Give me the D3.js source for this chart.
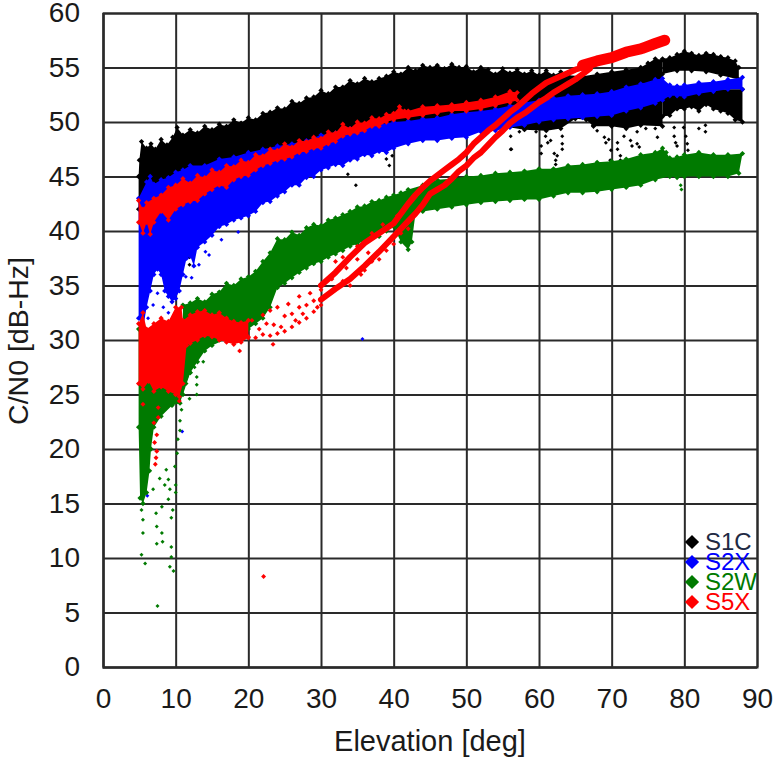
<!DOCTYPE html>
<html><head><meta charset="utf-8">
<script src="https://cdn.jsdelivr.net/npm/d3@7"></script>
<style>html,body{margin:0;background:#fff}svg{display:block}text{font-family:"Liberation Sans",Arial,sans-serif}</style>
</head><body><div id="c"></div>
<script>
const xTicks=[0,10,20,30,40,50,60,70,80,90];
const yTicks=[0,5,10,15,20,25,30,35,40,45,50,55,60];
const seriesNames=["S1C","S2X","S2W","S5X"];
const seriesColors=["#000000","#0000ff","#007a00","#ff0000"];

// S1C
const s1cTop=[[4.9,45],[5,46.5],[5.3,48.2],[6,47.6],[6.6,48],[7.2,47.5],[8,48.4],[8.8,47.9],[9.6,48.6],[10.2,49.5],[11,48.8],[12,49.3],[13,49],[14,49.6],[15,49.3],[16,49.8],[17,49.6],[18,50.2],[19,49.9],[20,50.4],[21,50.2],[22,50.8],[23,50.9],[24,51.3],[25,51.2],[26,51.9],[27,51.7],[28,52.2],[29,52.3],[30,52.9],[31,52.6],[32,53.2],[33,53.2],[34,53.8],[35,53.5],[36,54],[37,53.7],[38,54],[39,54.2],[40,54.6],[41,54.4],[42,55],[43,54.7],[44,55.2],[45,55],[46,55.2],[47,54.9],[48,55.3],[49,55],[50,55.1],[51,54.6],[52,55],[53,54.8],[54,54.4],[55,54.9],[56,54.5],[57,54.8],[58,54.4],[59,54.7],[60,54.3],[61,54.7],[62,54.3],[63,54.6],[64,54.3],[66,54.2],[68,54.4],[70,54.6],[72,54.8],[74,55],[75,55.4],[76,55.8],[77,55.7]];
const s1cBottom=[[4.9,42],[10,43],[15,44],[20,45],[25,46],[30,47],[35,47.7],[40,48.5],[45,49.2],[50,49.5],[55,49.6],[58,49.3],[61,49.2],[63,49.4],[65,50.3],[66.5,50.2],[67.5,49.6],[70,49.6],[72,49.4],[74,49.7],[77,49.6]];
const s1cUpperTop=[[77,55.8],[78,55.9],[79,56.2],[80,56.5],[81,56.3],[82,56.1],[83,56.3],[84,56.2],[85,56],[86,55.9],[87,55.6],[87.5,55]];
const s1cUpperBottom=[[77,54.4],[79,54.7],[81,54.7],[83,54.6],[85,54.3],[87.5,53.9]];
const s1cLowerTop=[[77,53],[88,53]];
const s1cLowerBottom=[[77,50.5],[78,50.6],[79,51.2],[80,51.2],[81,51.4],[82,51],[83,51.6],[84,51.2],[85,51],[86,50.8],[87,50.2],[88,50]];
const s1cPoints=[[56.1,48.7],[56.1,47.5],[57.3,49.1],[59.6,49.1],[60.3,47.8],[60.3,47.1],[60.9,48.7],[61.2,48.1],[61.6,48.3],[63.2,48.7],[63.2,48],[63.2,47.5],[62.1,47.1],[62.5,46.9],[62.3,46.5],[62.3,46.1],[67.4,49.7],[68,49.2],[69,48.6],[69.2,48.1],[69.6,48.4],[69.9,47.4],[69.8,46.5],[70.8,48.1],[70.8,47.5],[71.2,46.9],[71.2,46.5],[71.7,48.7],[72.6,48.3],[72.8,47.8],[73.5,48],[73.8,47.7],[73.5,49.1],[74.7,49.4],[76,49.4],[76.3,48.6],[78.6,49.5],[78.6,48.7],[78.8,48.1],[79,47.8],[79.9,49.5],[80.2,48.7],[80.4,48],[80.5,47.4],[82,49.4],[82.9,49.7],[82.9,49.1],[39.4,46],[39,46.6],[39.8,46.9],[33.7,45.2],[34.8,44.2],[56.2,47.5],[11.9,36.9],[11.9,37.6]];

// S2X
const s2xTop=[[4.9,43],[6,44.5],[6.5,45],[7,44.3],[8,44.7],[9,44.9],[10,45.4],[11,45.6],[12,46],[14,46],[16,46.6],[18,46.8],[20,47.2],[22,47.5],[24,47.8],[26,48],[28,48.3],[30,48.8],[32,49],[34,49.4],[36,49.6],[38,49.8],[40,50],[42,50.1],[44,50.3],[46,50.4],[48,50.7],[50,50.9],[52,51],[54,51.2],[56,51.5],[58,51.8],[60,52],[62,52.2],[64,52.4],[66,52.5],[68,52.6],[70,52.8],[72,53.2],[74,53.5],[76,53.9],[77,54],[78,53.4],[79,53.3],[80,53.4],[82,53.6],[84,53.7],[86,53.9],[88,54.1]];
const s2xBottom=[[4.9,32],[5.5,31],[6,33],[6.5,34.5],[7,36],[7.5,36.5],[8,36],[8.5,34.5],[9,34],[9.5,33.5],[10,33.8],[10.5,34.5],[11,36],[11.5,37.5],[12,37.7],[12.5,36.8],[13,38.5],[14,39],[15,39.6],[16,40.4],[17,40.6],[18,41],[19,41.2],[20,41.4],[21,41.8],[22,42.6],[23,42.7],[24,43.2],[25,43.6],[26,44.2],[27,44.2],[28,44.9],[29,45],[30,45.6],[31,45.8],[32,46.1],[33,46],[34,46.5],[35,46.6],[36,47],[37,46.9],[38,47.3],[39,47.2],[40,47.6],[42,48],[44,48.3],[46,48.3],[48,48.5],[50,48.6],[52,49.1],[54,49.2],[56,49.5],[58,49.7],[60,50],[62,50.2],[64,50.3],[66,50.4],[68,50.5],[70,50.6],[72,51],[74,51.3],[76,51.7],[77,52],[78,52.4],[79,52.4],[80,52.3],[82,52.6],[84,52.8],[86,53],[88,53]];
const s2xPoints=[[6.1,15.7],[10.9,21.6],[35.7,30.1],[5.3,30],[5.8,30.4],[6.2,32],[6.9,33.2],[7.5,34.3],[8.3,33],[9,32.5],[9.6,32],[10.2,31.5],[10.8,33],[11.4,35.8],[12.2,35.7],[13.2,36.9],[14.6,37.8],[14.1,38.1],[16.3,39.2],[18.6,39.9]];

// S2W
const s2wTop=[[11,33.2],[12,33.4],[13,33.8],[14,33.5],[15,34.2],[16,34.4],[17,35.2],[18,35],[19,35.6],[20,35.8],[21,36.3],[22,37.2],[23,38],[24,39.3],[25,39.2],[26,39.9],[27,39.6],[28,40.3],[29,40.6],[30,40.5],[31,41],[32,41.2],[33,41.5],[34,41.8],[35,42.2],[36,42.3],[37,42.7],[38,42.8],[39,43.1],[40,43.3],[41,43.5],[42,43.8],[44,44.2],[46,44.7],[48,44.8],[50,45],[52,45.1],[54,45.3],[56,45.4],[58,45.5],[60,45.7],[62,45.7],[64,46],[66,46.1],[68,46.3],[70,46.4],[72,46.6],[74,47],[76,47.2],[77,47.6],[77.5,47.2],[78,46.7],[79,46.8],[80,47],[82,47.2],[84,47],[86,47],[88,47.1]];
const s2wBottom=[[11,25],[12,27],[13,28],[14,29],[15,29.5],[20,31],[21,31.5],[22,32],[23,33],[24,34.8],[25,35.2],[26,35.7],[27,36.2],[28,36.6],[29,37],[30,37.2],[31,37.6],[32,37.9],[33,38.2],[34,38.6],[35,38.8],[36,39.1],[37,39.3],[38,39.5],[39,40],[40,40.4],[41,39],[42,38.3],[42.5,39],[43,41.6],[44,41.8],[46,42],[48,42.2],[50,42.4],[52,42.6],[54,42.7],[56,42.8],[58,42.9],[60,42.9],[62,43.2],[64,43.5],[66,43.5],[68,43.6],[70,43.8],[72,44],[74,44.2],[76,44.7],[78,45],[79,44.9],[80,45],[82,45],[84,45],[86,45],[87.5,45.3]];
const s2wColumnTop=[[4.9,31],[12,31]];
const s2wColumnBottom=[[4.9,22],[5.1,15.5],[5.5,15],[6,16],[6.4,18],[6.6,20],[7,22],[8,23],[9.5,24],[10.6,24.2],[11.4,26],[12,27]];
const s2wPoints=[[5.3,14.4],[5.5,13.5],[5.5,12.3],[5.3,10.3],[5.8,9.5],[7.4,12.9],[8.1,12.3],[7.4,11.3],[8.2,11.5],[9.4,11],[9.4,10.1],[9.2,9.2],[9.7,8.8],[7.5,5.6],[9.4,13.7],[9.6,14.4],[7.3,14.1],[8.1,14.7],[9,15.4],[6.9,16.3],[7.8,17.3],[8.7,18.1],[9.9,18.4],[10,16.7],[10,16],[8.5,16.7],[9.2,16.3],[9,17.2],[10.2,19.6],[10.3,20.9],[10.6,21.7],[10.6,22.6],[10.8,23.6],[12.9,25],[12.9,25.9],[12.9,26.6],[11.9,24.6],[13.8,28],[12.6,27.5],[79.5,44.2],[79.6,43.8]];

// S5X
const s5xUpperTop=[[4.9,42.8],[5.5,42],[6,42.6],[7,43],[8,43.3],[9,44],[10,44.2],[11,44.8],[12,44.4],[13,45.1],[14,44.9],[15,45.6],[16,45.4],[17,46],[18,45.9],[19,46.5],[20,46.3],[21,47],[22,46.9],[23,47.5],[24,47.4],[25,48],[26,47.7],[27,48.3],[28,48.2],[29,48.6],[30,48.5],[31,49.1],[32,49],[33,49.8],[34,49.4],[35,50],[36,49.9],[37,50.4],[38,50.3],[39,50.7],[40,50.8],[40.8,51.4],[41.5,51],[42,51],[44,51.4],[46,51.5],[48,51.6],[50,51.8],[52,52],[54,52.3],[56,52.8],[57,52.7]];
const s5xUpperBottom=[[4.9,40.8],[5.5,39.8],[6,40.8],[6.5,39.7],[7,40.8],[8,41.8],[9,41],[10,42],[11,42.4],[12,42.7],[13,42.8],[14,43.4],[15,43.8],[16,44.2],[17,44],[18,44.7],[19,45],[20,45.1],[21,45.6],[22,46],[23,46.2],[24,46.5],[25,46.6],[26,46.8],[27,47.2],[28,47.3],[29,47.6],[30,47.6],[31,48],[32,48.2],[33,48.7],[34,48.9],[35,49],[36,49.2],[37,49.6],[38,49.6],[39,50],[40,50.2],[42,50.4],[44,50.6],[46,50.8],[48,51],[50,51],[52,51.2],[54,51.5],[56,51.8],[57,52]];
const s5xClusterTop=[[4.9,31.5],[5.5,32.5],[6,31],[7,31.5],[8,32],[9,31.7],[10,33],[10.8,33],[11,31.8],[12,32.3],[13,32.6],[14,32.7],[15,32.3],[16,32.5],[17,32],[18,31.7],[19,31.6],[20,31.8]];
const s5xClusterBottom=[[4.9,26],[5.5,25.5],[6.3,26.2],[7,25.3],[8,25.7],[9,25.3],[10,25],[10.5,24.8],[11,26],[11.5,29.5],[12,29.7],[13,30],[14,30.4],[15,30.3],[16,30],[17,29.8],[18,29.6],[19,29.8],[20,30.2]];
const s5xStrandA=[[30,35],[32,36.2],[34,37.6],[36,38.9],[38,39.8],[40,40.7],[42,42.5],[43,43.3],[44,44],[45,44.6],[46,45.1],[47,45.6],[48,46.1],[49,46.6],[50,47.2],[51,48],[52,48.6],[53,49.2],[54,49.7],[55,50.3],[56,50.9],[57,51.4],[58,52],[59,52.6],[60,53.1],[61,53.6],[62,53.9],[63,54.2],[64,54.5],[65,54.8],[66,55]];
const s5xStrandB=[[30,33.7],[32,34.7],[34,35.6],[36,36.8],[38,38.1],[40,39.5],[42,40.9],[43,41.6],[44,42.4],[45,43.4],[46,43.8],[47,44.2],[48,44.8],[49,45.5],[50,46],[51,46.7],[52,47.2],[53,47.9],[54,48.6],[55,49.2],[56,49.9],[57,50.4],[58,50.8],[59,51.3],[60,51.8],[61,52.2],[62,52.7],[63,53.1],[64,53.5],[65,53.9],[66,54.4],[67,54.9]];
const s5xEnd=[[66,55.2],[68,55.6],[70,55.9],[72,56.4],[74,56.7],[76,57.2],[77.3,57.5]];
const s5xPoints=[[7,22.4],[7.4,21.3],[7.1,20.6],[7.4,19.8],[7.3,19.2],[7.2,18.6],[7.6,23.8],[7.6,22.9],[5.5,24.1],[10.5,24.4],[22.1,8.3],[18.8,29],[23.4,29.6],[17,30.5],[18,31.2],[19,30],[19.5,31.4],[20,30.3],[20.5,31.8],[21,30.2],[21.5,31],[22,30.5],[22,32.3],[22.5,31.5],[23,30.4],[23,32.7],[23.5,31.4],[24,30.6],[24,33],[24.5,31.2],[25,30.8],[25,32.2],[25.5,33.3],[26,31.2],[26,32.4],[26.5,31.8],[27,31.6],[27,33],[27,34],[27.5,32.4],[28,32],[28,33.2],[28.5,34.3],[29,32.6],[29,33.6],[29.5,33],[30,33.2],[30,34.6],[30.5,34],[31,34.2],[32,37.2],[33,35.4],[33,37.6],[34,35],[35,38.6],[35.5,36],[36,36.4],[37,37.2],[37,39.8],[38,37.4],[38.5,40.6],[39,38.2],[40,38.8],[40.5,41.4],[41,39.8],[42,40.2],[31.5,35.6],[33.5,36.6],[35,37.4],[36.5,38]];

const W=774,H=757,m={l:103,r:757,t:13,b:667};
const x=d3.scaleLinear().domain([0,90]).range([m.l,m.r]);
const y=d3.scaleLinear().domain([0,60]).range([m.b,m.t]);
const svg=d3.select("#c").append("svg").attr("width",W).attr("height",H);
const ink="#2a2a2a";
const gx=svg.append("g").attr("transform",`translate(0,${m.b})`).call(d3.axisBottom(x).tickValues(xTicks).tickSize(-(m.b-m.t)).tickPadding(21));
const gy=svg.append("g").attr("transform",`translate(${m.l},0)`).call(d3.axisLeft(y).tickValues(yTicks).tickSize(-(m.r-m.l)).tickPadding(23));
[gx,gy].forEach(g=>{g.select(".domain").attr("stroke",ink).attr("stroke-width",2);
 g.selectAll(".tick line").attr("stroke",ink).attr("stroke-width",2);
 g.selectAll("text").attr("fill","#1a1a1a").style("font-size","28px").style("font-family",'"Liberation Sans",Arial,sans-serif');});

const marks=svg.append("g").style("filter","blur(0.5px)");
const line=d3.line().x(d=>x(d[0])).y(d=>y(d[1]));
function pts(arr,c,size){const s=d3.symbol().type(d3.symbolSquare).size(size||14);
 marks.append("g").selectAll("path").data(arr).join("path").attr("d",s).attr("fill",c)
 .attr("transform",d=>`translate(${x(d[0])},${y(d[1])}) rotate(45)`);}
function band(top,bottom,c){marks.append("path").attr("d",line(top.concat(bottom.slice().reverse()))+"Z").attr("fill",c);
 pts(top,c);pts(bottom,c);}
function strand(arr,c,w){marks.append("path").attr("d",line(arr)).attr("fill","none").attr("stroke",c).attr("stroke-width",w).attr("stroke-linecap","round").attr("stroke-linejoin","round");}
const [K,B,G,R]=seriesColors;
band(s1cTop,s1cBottom,K);band(s1cUpperTop,s1cUpperBottom,K);band(s1cLowerTop,s1cLowerBottom,K);pts(s1cPoints,K,8);
band(s2xTop,s2xBottom,B);pts(s2xPoints,B,8);
band(s2wColumnTop,s2wColumnBottom,G);band(s2wTop,s2wBottom,G);pts(s2wPoints,G,8);
band(s5xUpperTop,s5xUpperBottom,R);band(s5xClusterTop,s5xClusterBottom,R);
strand(s5xStrandA,R,6);strand(s5xStrandB,R,6);strand(s5xEnd,R,11);pts(s5xPoints,R,12);

svg.append("text").attr("x",430).attr("y",751).attr("text-anchor","middle").attr("fill","#1a1a1a").style("font-size","29px").text("Elevation [deg]");
svg.append("text").attr("transform",`translate(28,341) rotate(-90)`).attr("text-anchor","middle").attr("fill","#1a1a1a").style("font-size","28.5px").text("C/N0 [dB-Hz]");

const legendY=[542,562,582,602];
const legendColors=["#1f2a44","#0000ff","#007a00","#ff0000"];
const lg=svg.append("g");
seriesNames.forEach((n,i)=>{
 lg.append("path").attr("d",d3.symbol().type(d3.symbolSquare).size(100)).attr("fill",seriesColors[i]).attr("transform",`translate(692,${legendY[i]}) rotate(45)`);
 lg.append("text").attr("x",705).attr("y",legendY[i]+8).attr("fill",legendColors[i]).style("font-size","24px").text(n);
});
</script></body></html>
